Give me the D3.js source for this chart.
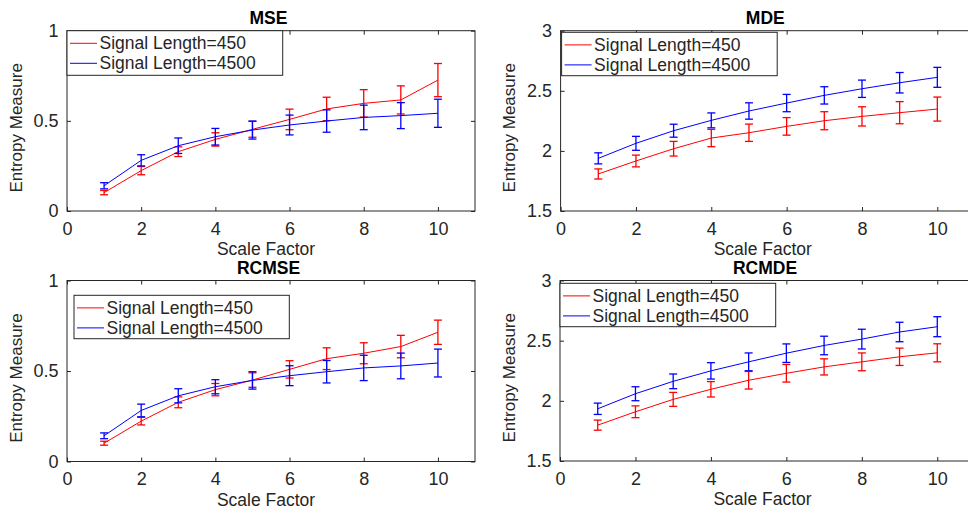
<!DOCTYPE html>
<html>
<head>
<meta charset="utf-8">
<script src="https://cdn.jsdelivr.net/npm/d3@7"></script>
<style>
  body { margin: 0; background: #fff; }
  svg { display: block; font-family: "Liberation Sans", Arial, sans-serif; }
</style>
</head>
<body>
<div id="chart"></div>
<script>
// scale factors shared by all panels
const scales = [1, 2, 3, 4, 5, 6, 7, 8, 9, 10];
const xTicks = [0, 2, 4, 6, 8, 10];
const seriesNames = ['Signal Length=450', 'Signal Length=4500'];

// MSE
const mse450 = [0.102, 0.224, 0.329, 0.397, 0.453, 0.508, 0.566, 0.597, 0.616, 0.726];
const mse450Err = [0.012, 0.023, 0.027, 0.037, 0.044, 0.057, 0.065, 0.076, 0.078, 0.092];
const mse4500 = [0.140, 0.281, 0.362, 0.412, 0.449, 0.477, 0.499, 0.519, 0.529, 0.542];
const mse4500Err = [0.017, 0.031, 0.043, 0.046, 0.050, 0.055, 0.062, 0.068, 0.072, 0.078];

// MDE
const mde450 = [1.808, 1.916, 2.018, 2.107, 2.151, 2.204, 2.251, 2.287, 2.318, 2.348];
const mde450Err = [0.042, 0.049, 0.061, 0.072, 0.072, 0.073, 0.075, 0.080, 0.092, 0.100];
const mde4500 = [1.938, 2.063, 2.168, 2.254, 2.332, 2.398, 2.462, 2.517, 2.567, 2.612];
const mde4500Err = [0.046, 0.058, 0.054, 0.062, 0.068, 0.072, 0.072, 0.072, 0.085, 0.083];

// RCMSE
const rcmse450 = [0.101, 0.223, 0.327, 0.397, 0.450, 0.509, 0.568, 0.598, 0.635, 0.714];
const rcmse450Err = [0.011, 0.021, 0.030, 0.034, 0.040, 0.048, 0.060, 0.058, 0.062, 0.067];
const rcmse4500 = [0.142, 0.282, 0.363, 0.413, 0.448, 0.474, 0.496, 0.517, 0.528, 0.544];
const rcmse4500Err = [0.016, 0.035, 0.039, 0.039, 0.048, 0.055, 0.062, 0.070, 0.071, 0.077];

// RCMDE
const rcmde450 = [1.798, 1.909, 2.012, 2.096, 2.171, 2.229, 2.282, 2.324, 2.366, 2.399];
const rcmde450Err = [0.042, 0.049, 0.058, 0.064, 0.073, 0.073, 0.067, 0.074, 0.072, 0.075];
const rcmde4500 = [1.934, 2.059, 2.162, 2.249, 2.324, 2.396, 2.460, 2.513, 2.572, 2.616];
const rcmde4500Err = [0.047, 0.058, 0.061, 0.068, 0.074, 0.077, 0.077, 0.082, 0.081, 0.083];

const seTicks = [0, 0.5, 1];
const deTicks = [1.5, 2, 2.5, 3];

const colors = ['#ff0000', '#0000ff'];
const ink = '#262626';

const width = 968, height = 513;

const panels = [
  { title: 'MSE', box: [67, 30.7, 475, 211], yDomain: [0, 1], yTicks: seTicks,
    series: [[mse450, mse450Err], [mse4500, mse4500Err]],
    legend: { x: 0, y: 0, w: 215.7, h: 44.6 } },
  { title: 'MDE', box: [560.6, 30.7, 975, 211], yDomain: [1.5, 3], yTicks: deTicks,
    series: [[mde450, mde450Err], [mde4500, mde4500Err]],
    legend: { x: 1, y: 1.6, w: 215.6, h: 43.4 } },
  { title: 'RCMSE', box: [67, 280.5, 475, 461.5], yDomain: [0, 1], yTicks: seTicks,
    series: [[rcmse450, rcmse450Err], [rcmse4500, rcmse4500Err]],
    legend: { x: 7, y: 14.8, w: 215.3, h: 43.4 } },
  { title: 'RCMDE', box: [560, 280.5, 975, 461], yDomain: [1.5, 3], yTicks: deTicks,
    series: [[rcmde450, rcmde450Err], [rcmde4500, rcmde4500Err]],
    legend: { x: 0, y: 2.8, w: 215.7, h: 43.4 } }
];

const svg = d3.select('#chart')
  .append('svg')
  .attr('width', width)
  .attr('height', height);

panels.forEach(p => {
  const [x0, y0, x1, y1] = p.box;
  const w = x1 - x0, h = y1 - y0;

  const g = svg.append('g').attr('transform', `translate(${x0},${y0})`);

  const x = d3.scaleLinear().domain([0, 11]).range([0, w]);
  const y = d3.scaleLinear().domain(p.yDomain).range([h, 0]);

  // axes, MATLAB style: inward ticks on all four sides
  const styleAxis = sel => {
    sel.select('.domain').remove();
    sel.selectAll('line').attr('stroke', ink);
    sel.selectAll('text').attr('fill', ink).style('font-size', '18px');
  };

  g.append('g')
    .attr('transform', `translate(0,${h})`)
    .call(d3.axisBottom(x).tickValues(xTicks).tickSizeInner(-4).tickPadding(11).tickFormat(d3.format('d')))
    .call(styleAxis);

  g.append('g')
    .call(d3.axisTop(x).tickValues(xTicks).tickSizeInner(-4).tickFormat(''))
    .call(styleAxis);

  g.append('g')
    .call(d3.axisLeft(y).tickValues(p.yTicks).tickSizeInner(-4).tickPadding(8.5).tickFormat(d3.format('')))
    .call(styleAxis);

  g.append('g')
    .attr('transform', `translate(${w},0)`)
    .call(d3.axisRight(y).tickValues(p.yTicks).tickSizeInner(-4).tickFormat(''))
    .call(styleAxis);

  g.append('rect')
    .attr('width', w)
    .attr('height', h)
    .attr('fill', 'none')
    .attr('stroke', ink)
    .attr('stroke-width', 1);

  // lines + error bars
  const line = d3.line()
    .x((d, i) => x(scales[i]))
    .y(d => y(d));

  p.series.forEach(([vals, errs], si) => {
    const c = colors[si];
    g.append('path')
      .datum(vals)
      .attr('fill', 'none')
      .attr('stroke', c)
      .attr('stroke-width', 1)
      .attr('d', line);

    const eb = g.append('g').attr('stroke', c).attr('stroke-width', 1.3);
    vals.forEach((v, i) => {
      const cx = x(scales[i]);
      const top = y(v + errs[i]), bot = y(v - errs[i]);
      eb.append('line').attr('x1', cx).attr('x2', cx).attr('y1', top).attr('y2', bot);
      eb.append('line').attr('x1', cx - 4).attr('x2', cx + 4).attr('y1', top).attr('y2', top);
      eb.append('line').attr('x1', cx - 4).attr('x2', cx + 4).attr('y1', bot).attr('y2', bot);
    });
  });

  // title
  g.append('text')
    .attr('x', w / 2 - 2.5)
    .attr('y', -6.5)
    .attr('text-anchor', 'middle')
    .attr('fill', '#000')
    .style('font-size', '17.5px')
    .style('font-weight', 'bold')
    .text(p.title);

  // axis labels
  g.append('text')
    .attr('x', w / 2 - 5)
    .attr('y', h + 44)
    .attr('text-anchor', 'middle')
    .attr('fill', ink)
    .style('font-size', '17.5px')
    .text('Scale Factor');

  g.append('text')
    .attr('transform', `translate(${-45.5},${h / 2 + 7}) rotate(-90)`)
    .attr('text-anchor', 'middle')
    .attr('fill', ink)
    .style('font-size', '17px')
    .text('Entropy Measure');

  // legend
  const L = p.legend;
  const lg = g.append('g').attr('transform', `translate(${L.x},${L.y})`);
  lg.append('rect')
    .attr('width', L.w)
    .attr('height', L.h)
    .attr('fill', '#fff')
    .attr('stroke', ink)
    .attr('stroke-width', 1);
  seriesNames.forEach((name, i) => {
    const ry = 12.6 + i * 20;
    lg.append('line')
      .attr('x1', 3).attr('x2', 30)
      .attr('y1', ry).attr('y2', ry)
      .attr('stroke', colors[i])
      .attr('stroke-width', 1);
    lg.append('text')
      .attr('x', 32.5)
      .attr('y', ry + 6)
      .attr('fill', ink)
      .style('font-size', '17.5px')
      .text(name);
  });
});
</script>
</body>
</html>
